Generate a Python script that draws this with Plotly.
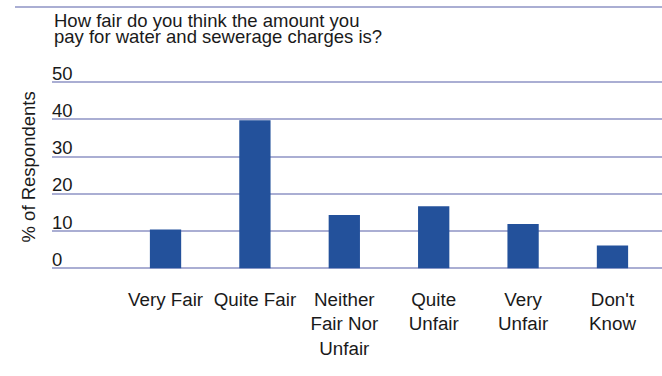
import plotly.graph_objects as go

# Survey responses: share of respondents per answer
categories = ["Very Fair", "Quite Fair", "Neither<br>Fair Nor<br>Unfair",
              "Quite<br>Unfair", "Very<br>Unfair", "Don't<br>Know"]
percentages = [10.4, 39.8, 14.3, 16.7, 11.9, 6.1]
y_ticks = [0, 10, 20, 30, 40, 50]
title_lines = ["How fair do you think the amount you",
               "pay for water and sewerage charges is?"]
y_title = "% of Respondents"

FONT = "Liberation Sans, Arial, sans-serif"
TEXT = "#1a1a1a"
BAR = "#23519B"
GRID = "#AAAED3"

W, H = 662, 376
ML, MR, MT, MB = 52, 0, 45, 104
plot_h = H - MT - MB


def py(pixel_y):
    """Convert a pixel row to paper y."""
    return (H - MB - pixel_y) / plot_h


def px(pixel_x):
    """Convert a pixel column to paper x."""
    return (pixel_x - ML) / (W - ML - MR)


fig = go.Figure(
    go.Bar(
        x=list(range(len(categories))),
        y=percentages,
        width=0.35,
        marker=dict(color=BAR, line=dict(width=0)),
        hoverinfo="skip",
    )
)

fig.update_layout(
    width=W,
    height=H,
    margin=dict(l=ML, r=MR, t=MT, b=MB, pad=0),
    paper_bgcolor="white",
    plot_bgcolor="white",
    showlegend=False,
    font=dict(family=FONT, size=18, color=TEXT),
    xaxis=dict(
        range=[-1.27, 5.554],
        tickmode="array",
        tickvals=list(range(len(categories))),
        ticktext=categories,
        showgrid=False,
        zeroline=False,
        showline=False,
        ticks="",
        ticklabelstandoff=14,
        tickfont=dict(family=FONT, size=18.8, color=TEXT),
        fixedrange=True,
    ),
    yaxis=dict(
        range=[-1, 60],
        tickmode="array",
        tickvals=y_ticks,
        ticktext=[str(v) for v in y_ticks],
        showgrid=True,
        gridcolor=GRID,
        gridwidth=1.5,
        zeroline=False,
        showline=False,
        ticks="",
        ticklabelposition="inside top",
        ticklabelshift=4,
        ticklabelstandoff=-3,
        tickfont=dict(family=FONT, size=18.5, color=TEXT),
        fixedrange=True,
    ),
)

# Zero baseline in the same style as the gridlines
fig.add_shape(type="line", xref="paper", yref="y", x0=0, x1=1, y0=0, y1=0,
              line=dict(color=GRID, width=1.5), layer="below")

# Rule above the heading
fig.add_shape(type="line", xref="paper", yref="paper",
              x0=px(15), x1=1, y0=py(7), y1=py(7),
              line=dict(color=GRID, width=1.8))

# Two-line heading
for i, line in enumerate(title_lines):
    fig.add_annotation(
        text=line, xref="paper", yref="paper",
        x=px(52), y=py(20.5 + 16.5 * i),
        xanchor="left", yanchor="middle", showarrow=False,
        font=dict(family=FONT, size=18.5, color=TEXT),
    )

# Vertical axis title
fig.add_annotation(
    text=y_title, xref="paper", yref="paper",
    x=px(28), y=py(167.5), textangle=-90,
    xanchor="center", yanchor="middle", showarrow=False,
    font=dict(family=FONT, size=18.5, color=TEXT),
)

fig.write_html("out.html")
